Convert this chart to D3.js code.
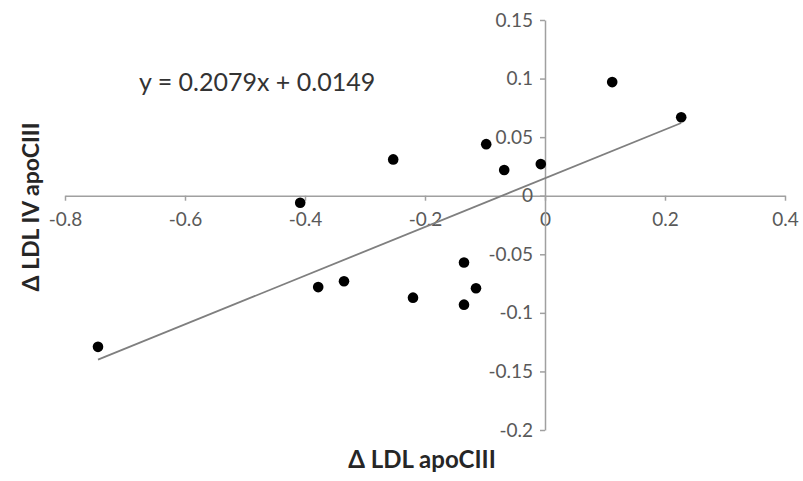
<!DOCTYPE html>
<html>
<head>
<meta charset="utf-8">
<script src="https://cdn.jsdelivr.net/npm/d3@7"></script>
<style>
  body { margin: 0; background: #fff; }
  text { font-family: Lato, "Open Sans", sans-serif; }
</style>
</head>
<body>
<script>
// data
const xVals = [-0.745, -0.408, -0.378, -0.335, -0.253, -0.22, -0.135, -0.135, -0.115, -0.098, -0.068, -0.007, 0.112, 0.227];
const yVals = [-0.129, -0.006, -0.078, -0.073, 0.031, -0.087, -0.057, -0.093, -0.079, 0.044, 0.022, 0.027, 0.097, 0.067];
const xTicks = [-0.8, -0.6, -0.4, -0.2, 0, 0.2, 0.4];
const yTicks = [0.15, 0.1, 0.05, 0, -0.05, -0.1, -0.15, -0.2];
const slope = 0.2079;
const intercept = 0.0149;
const eqLabel = "y = 0.2079x + 0.0149";
const xTitle = "\u0394 LDL apoCIII";
const yTitle = "\u0394 LDL IV apoCIII";

const width = 803;
const height = 481;
const svg = d3.create("svg").attr("width", width).attr("height", height);

const x = d3.scaleLinear().domain([-0.8, 0.4]).range([65, 785]);
const y = d3.scaleLinear().domain([-0.2, 0.15]).range([430, 20]);

const axisColor = "#a0a0a0";
const labelColor = "#595959";
const fmt = d => String(+d.toFixed(2)); // plain hyphen for negatives

// x axis through y = 0
const xAxis = svg.append("g")
  .attr("transform", `translate(0,${y(0)})`)
  .call(d3.axisBottom(x).tickValues(xTicks).tickSize(5).tickSizeOuter(0).tickFormat(fmt));
xAxis.attr("font-size", null);
xAxis.select(".domain").attr("stroke", axisColor).attr("stroke-width", 1.5);
xAxis.selectAll(".tick line").attr("stroke", axisColor).attr("stroke-width", 1.5);
xAxis.selectAll(".tick text")
  .attr("fill", labelColor).style("font-size", "19px").attr("dy", "1.15em");

// y axis through x = 0
const yAxis = svg.append("g")
  .attr("transform", `translate(${x(0)},0)`)
  .call(d3.axisLeft(y).tickValues(yTicks).tickSize(5).tickSizeOuter(0).tickFormat(fmt));
yAxis.attr("font-size", null);
yAxis.select(".domain").attr("stroke", axisColor).attr("stroke-width", 1.5);
yAxis.selectAll(".tick line").attr("stroke", axisColor).attr("stroke-width", 1.5);
yAxis.selectAll(".tick text")
  .attr("fill", labelColor).style("font-size", "19px").attr("x", -12);

// trend line across the data range
const xMin = d3.min(xVals), xMax = d3.max(xVals);
svg.append("line")
  .attr("x1", x(xMin)).attr("y1", y(slope * xMin + intercept))
  .attr("x2", x(xMax)).attr("y2", y(slope * xMax + intercept))
  .attr("stroke", "#7f7f7f").attr("stroke-width", 1.8);

// points
svg.append("g").selectAll("circle")
  .data(xVals.map((v, i) => [v, yVals[i]]))
  .join("circle")
  .attr("cx", d => x(d[0]))
  .attr("cy", d => y(d[1]))
  .attr("r", 5.3)
  .attr("fill", "#000");

// equation
svg.append("text")
  .attr("x", 139).attr("y", 91)
  .attr("font-size", 25).attr("fill", "#333")
  .text(eqLabel);

// axis titles
svg.append("text")
  .attr("x", 422).attr("y", 468)
  .attr("text-anchor", "middle")
  .attr("font-size", 24).attr("font-weight", "bold").attr("fill", "#262626")
  .text(xTitle);

svg.append("text")
  .attr("transform", "translate(39,207) rotate(-90)")
  .attr("text-anchor", "middle")
  .attr("font-size", 23).attr("font-weight", "bold").attr("fill", "#262626")
  .text(yTitle);

d3.select("body").append(() => svg.node());
</script>
</body>
</html>
